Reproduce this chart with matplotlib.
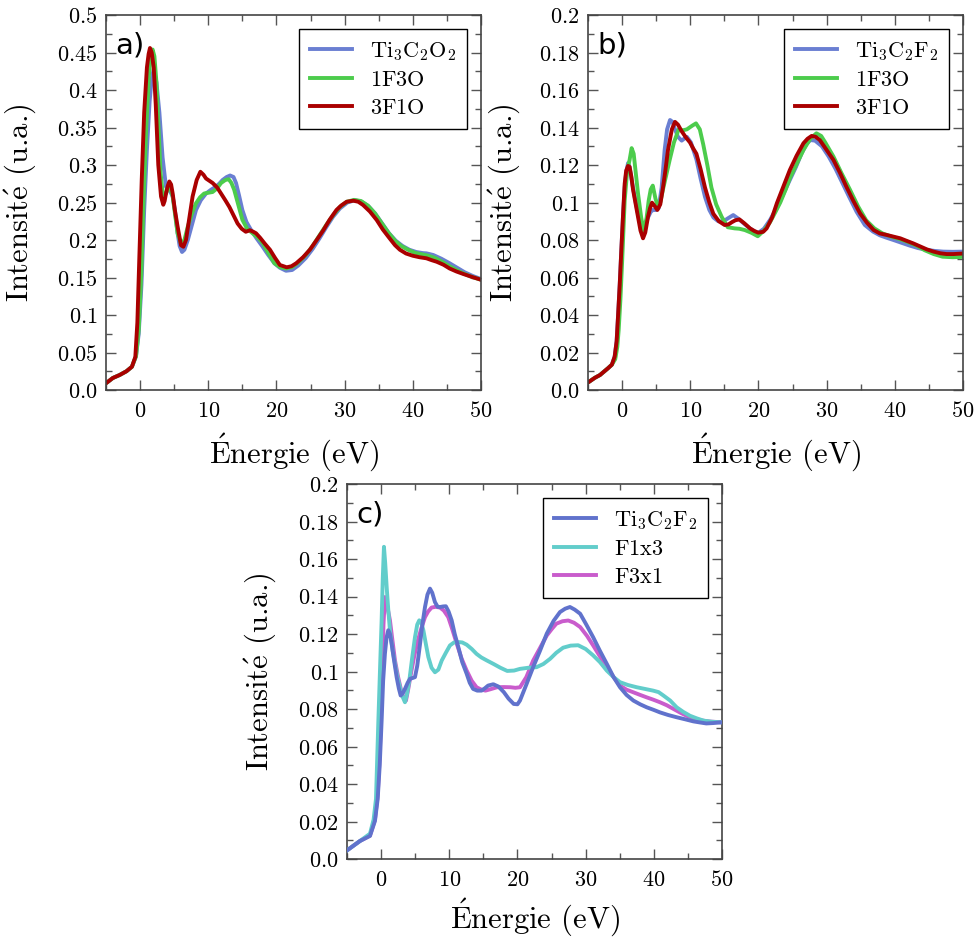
import matplotlib
matplotlib.use("Agg")
import matplotlib.pyplot as plt
from matplotlib.ticker import MultipleLocator, FixedLocator, FixedFormatter

plt.rcParams['mathtext.fontset'] = 'cm'
plt.rcParams['font.family'] = ['DejaVu Sans']

# ---------------- data: panel a ----------------
a_blue_x = [-5, -4, -3, -2, -1.2, -0.6, -0.2, 0.2, 0.6, 1.0, 1.4, 1.7, 2.0, 2.4, 2.83, 3.3, 3.8, 4.3, 4.78, 5.1, 5.5, 5.8, 6.15, 6.5, 7.0, 7.6, 8.2, 8.9, 9.67, 10.4, 11.1, 11.6, 12.1, 12.7, 13.2, 13.7, 14.07, 14.5, 15.0, 15.6, 16.3, 17.1, 17.98, 18.8, 19.7, 20.5, 21.4, 22.3, 23.2, 24.3, 25.3, 26.3, 27.3, 28.3, 29.3, 30.4, 31.5, 32.5, 33.5, 34.5, 35.5, 36.5, 37.5, 38.5, 39.5, 40.5, 41.5, 42.0, 43.0, 44.2, 45.4, 46.5, 47.6, 48.8, 50]
a_blue_y = [0.009, 0.016, 0.020, 0.025, 0.031, 0.045, 0.075, 0.14, 0.24, 0.32, 0.385, 0.415, 0.428, 0.41, 0.37, 0.31, 0.271, 0.267, 0.258, 0.24, 0.209, 0.192, 0.184, 0.187, 0.20, 0.22, 0.24, 0.253, 0.262, 0.267, 0.271, 0.275, 0.28, 0.284, 0.286, 0.284, 0.276, 0.26, 0.24, 0.224, 0.213, 0.202, 0.191, 0.18, 0.169, 0.163, 0.159, 0.16, 0.166, 0.176, 0.188, 0.202, 0.217, 0.231, 0.242, 0.25, 0.253, 0.251, 0.245, 0.235, 0.222, 0.209, 0.199, 0.192, 0.187, 0.184, 0.1825, 0.1822, 0.180, 0.175, 0.169, 0.163, 0.157, 0.152, 0.148]

a_green_x = [-5, -4, -3, -2, -1.2, -0.6, -0.2, 0.2, 0.5, 0.9, 1.3, 1.6, 1.84, 2.1, 2.4, 2.7, 3.0, 3.4, 3.8, 4.19, 4.5, 4.78, 5.1, 5.5, 6.0, 6.5, 7.0, 7.6, 8.2, 8.8, 9.4, 10.0, 10.64, 11.3, 11.87, 12.5, 13.0, 13.4, 13.8, 14.4, 15.0, 15.7, 16.5, 17.3, 17.98, 18.8, 19.7, 20.5, 21.4, 22.3, 23.2, 24.3, 25.3, 26.3, 27.3, 28.3, 29.3, 30.3, 31.4, 32.4, 33.4, 34.4, 35.4, 36.4, 37.4, 38.3, 39.3, 40.3, 41.3, 42.3, 43.3, 44.3, 45.4, 46.4, 47.4, 48.6, 50]
a_green_y = [0.009, 0.016, 0.020, 0.025, 0.031, 0.045, 0.08, 0.16, 0.25, 0.35, 0.42, 0.448, 0.454, 0.445, 0.41, 0.35, 0.29, 0.256, 0.262, 0.271, 0.268, 0.258, 0.236, 0.209, 0.195, 0.20, 0.218, 0.235, 0.249, 0.257, 0.262, 0.263, 0.264, 0.269, 0.276, 0.28, 0.281, 0.276, 0.267, 0.247, 0.227, 0.215, 0.209, 0.203, 0.196, 0.183, 0.169, 0.164, 0.162, 0.164, 0.170, 0.180, 0.192, 0.206, 0.220, 0.233, 0.244, 0.251, 0.2535, 0.252, 0.246, 0.236, 0.223, 0.210, 0.199, 0.192, 0.187, 0.183, 0.181, 0.179, 0.176, 0.171, 0.165, 0.160, 0.1555, 0.151, 0.147]

a_red_x = [-5, -4, -3, -2, -1.2, -0.7, -0.4, -0.1, 0.24, 0.6, 1.0, 1.25, 1.45, 1.7, 2.0, 2.3, 2.67, 3.07, 3.4, 3.6, 3.8, 4.05, 4.29, 4.55, 4.78, 5.1, 5.5, 6.0, 6.35, 6.73, 7.2, 7.7, 8.3, 8.84, 9.3, 9.67, 10.64, 11.3, 11.87, 12.5, 13.1, 13.7, 14.3, 14.9, 15.5, 16.12, 16.6, 17.0, 17.6, 18.3, 19.05, 19.8, 20.5, 21.5, 22.2, 22.9, 23.9, 24.9, 25.9, 26.87, 27.8, 28.8, 29.5, 30.3, 31.27, 32.0, 32.7, 33.7, 34.7, 35.6, 36.6, 37.4, 38.1, 39.0, 40.0, 41.0, 42.0, 42.8, 43.5, 44.5, 45.4, 46.4, 47.4, 48.6, 50]
a_red_y = [0.009, 0.016, 0.020, 0.025, 0.031, 0.044, 0.09, 0.18, 0.28, 0.37, 0.43, 0.448, 0.456, 0.45, 0.43, 0.38, 0.30, 0.258, 0.247, 0.252, 0.262, 0.272, 0.278, 0.274, 0.262, 0.24, 0.218, 0.193, 0.191, 0.20, 0.228, 0.258, 0.28, 0.291, 0.287, 0.282, 0.276, 0.27, 0.262, 0.253, 0.244, 0.233, 0.222, 0.215, 0.211, 0.213, 0.211, 0.209, 0.203, 0.195, 0.187, 0.176, 0.1667, 0.1636, 0.165, 0.169, 0.177, 0.187, 0.20, 0.213, 0.227, 0.24, 0.246, 0.251, 0.2524, 0.251, 0.2467, 0.238, 0.2267, 0.214, 0.2022, 0.193, 0.187, 0.182, 0.179, 0.177, 0.1756, 0.173, 0.171, 0.167, 0.162, 0.158, 0.1547, 0.151, 0.147]

# ---------------- data: panel b ----------------
b_blue_x = [-5, -4, -3.24, -2.07, -1.5, -1.09, -0.8, -0.6, -0.35, -0.11, 0.15, 0.38, 0.6, 0.87, 1.1, 1.5, 2.0, 2.5, 3.07, 3.5, 3.8, 4.2, 4.5, 5.0, 5.36, 5.8, 6.24, 6.6, 7.03, 7.4, 7.76, 8.2, 8.74, 9.1, 9.5, 10.1, 10.9, 11.5, 12.16, 12.8, 13.4, 14.1, 14.8, 15.5, 16.3, 17.0, 17.8, 18.8, 19.9, 20.8, 21.7, 22.5, 23.2, 24.6, 25.5, 26.3, 27.0, 27.6, 28.3, 29.3, 30.3, 31.3, 32.3, 33.3, 34.4, 35.6, 36.8, 37.8, 38.8, 39.8, 41.0, 42.2, 43.4, 44.6, 45.8, 47.1, 48.5, 50]
b_blue_y = [0.004, 0.0065, 0.008, 0.0116, 0.0135, 0.0178, 0.026, 0.039, 0.056, 0.0747, 0.094, 0.108, 0.116, 0.121, 0.119, 0.110, 0.100, 0.091, 0.0853, 0.0895, 0.092, 0.095, 0.096, 0.096, 0.097, 0.108, 0.128, 0.139, 0.144, 0.143, 0.139, 0.135, 0.133, 0.134, 0.135, 0.132, 0.123, 0.113, 0.103, 0.096, 0.092, 0.090, 0.0898, 0.0915, 0.0933, 0.0915, 0.089, 0.086, 0.0836, 0.086, 0.0907, 0.096, 0.101, 0.112, 0.119, 0.126, 0.131, 0.1333, 0.133, 0.130, 0.1245, 0.118, 0.1105, 0.103, 0.095, 0.088, 0.0845, 0.0825, 0.0812, 0.080, 0.0785, 0.077, 0.0757, 0.0748, 0.0742, 0.0738, 0.0737, 0.0738]

b_green_x = [-5, -4, -3.24, -2.07, -1.5, -1.0, -0.7, -0.5, -0.25, 0.0, 0.38, 0.75, 1.1, 1.4, 1.7, 2.0, 2.33, 2.8, 3.2, 3.6, 3.9, 4.2, 4.5, 4.9, 5.27, 5.6, 6.0, 6.5, 7.0, 7.6, 8.3, 8.9, 9.5, 10.3, 10.84, 11.4, 11.9, 12.5, 13.1, 13.8, 14.6, 15.5, 16.5, 17.2, 18.0, 19.0, 19.9, 20.8, 21.7, 22.5, 23.2, 24.0, 24.6, 25.6, 26.6, 27.6, 28.5, 29.2, 29.8, 31.0, 32.2, 33.4, 34.6, 35.8, 37.0, 38.2, 39.5, 40.7, 41.9, 43.2, 44.4, 45.7, 47.0, 48.5, 50]
b_green_y = [0.004, 0.0065, 0.008, 0.0116, 0.0135, 0.0165, 0.023, 0.032, 0.048, 0.068, 0.101, 0.117, 0.1227, 0.129, 0.126, 0.116, 0.105, 0.092, 0.0844, 0.092, 0.101, 0.107, 0.109, 0.102, 0.0978, 0.100, 0.107, 0.115, 0.123, 0.132, 0.139, 0.1385, 0.139, 0.141, 0.1422, 0.139, 0.131, 0.12, 0.108, 0.099, 0.0924, 0.0868, 0.0862, 0.0860, 0.0853, 0.0838, 0.082, 0.085, 0.0895, 0.095, 0.100, 0.107, 0.113, 0.1205, 0.128, 0.134, 0.1369, 0.1355, 0.132, 0.1245, 0.1155, 0.107, 0.098, 0.0905, 0.0862, 0.0835, 0.0818, 0.0805, 0.079, 0.077, 0.0745, 0.0725, 0.0711, 0.0708, 0.0710]

b_red_x = [-5, -4, -3.24, -2.07, -1.5, -1.09, -0.8, -0.6, -0.35, -0.11, 0.15, 0.38, 0.6, 0.87, 1.1, 1.35, 1.6, 2.0, 2.33, 2.7, 3.07, 3.4, 3.8, 4.1, 4.39, 4.8, 5.17, 5.6, 6.0, 6.35, 6.73, 7.3, 7.76, 8.2, 8.74, 9.3, 9.96, 10.4, 10.9, 11.5, 12.16, 12.8, 13.38, 14.2, 15.04, 15.6, 16.1, 16.6, 17.2, 17.9, 18.76, 19.4, 19.98, 20.7, 21.2, 22.0, 22.7, 23.6, 24.6, 25.6, 26.6, 27.2, 27.8, 28.4, 29.0, 30.0, 31.0, 32.0, 32.9, 33.9, 34.9, 35.9, 36.9, 37.8, 38.8, 39.8, 40.8, 41.7, 42.7, 43.7, 44.7, 45.7, 46.7, 47.6, 48.6, 50]
b_red_y = [0.004, 0.0065, 0.008, 0.0116, 0.0135, 0.0178, 0.026, 0.039, 0.056, 0.0747, 0.094, 0.110, 0.117, 0.1195, 0.119, 0.114, 0.107, 0.099, 0.0924, 0.085, 0.0809, 0.084, 0.0924, 0.097, 0.0999, 0.098, 0.096, 0.099, 0.108, 0.117, 0.128, 0.139, 0.143, 0.1415, 0.138, 0.135, 0.132, 0.129, 0.126, 0.118, 0.108, 0.100, 0.094, 0.090, 0.088, 0.0883, 0.0895, 0.0905, 0.091, 0.089, 0.0862, 0.0848, 0.0839, 0.0844, 0.0862, 0.092, 0.0996, 0.108, 0.1173, 0.125, 0.1316, 0.134, 0.1355, 0.135, 0.1333, 0.128, 0.1227, 0.1155, 0.1084, 0.101, 0.0942, 0.0893, 0.0853, 0.0835, 0.0827, 0.0818, 0.0809, 0.0796, 0.0782, 0.0766, 0.075, 0.0738, 0.0729, 0.0725, 0.0725, 0.0728]

# ---------------- data: panel c ----------------
c_blue_x = [-5, -3.1, -1.63, -0.9, -0.5, -0.2, 0.08, 0.3, 0.56, 0.8, 1.05, 1.3, 1.55, 1.9, 2.28, 2.6, 2.87, 3.2, 3.5, 3.9, 4.24, 4.6, 4.97, 5.3, 5.7, 6.05, 6.44, 6.8, 7.17, 7.5, 7.9, 8.3, 8.64, 9.1, 9.5, 9.9, 10.35, 10.8, 11.33, 11.9, 12.55, 13.0, 13.5, 14.1, 14.74, 15.2, 15.7, 16.46, 17.2, 18.0, 18.7, 19.45, 20.0, 20.37, 21.3, 22.3, 23.3, 24.3, 25.3, 26.24, 27.0, 27.7, 28.4, 29.2, 30.1, 31.1, 32.1, 33.1, 34.1, 35.04, 36.0, 37.0, 38.0, 38.96, 40.0, 40.9, 42.1, 43.35, 44.6, 45.8, 46.8, 47.7, 48.7, 50]
c_blue_y = [0.0046, 0.0096, 0.0123, 0.0203, 0.032, 0.05, 0.0738, 0.095, 0.1094, 0.118, 0.122, 0.12, 0.1147, 0.106, 0.097, 0.091, 0.0872, 0.0885, 0.0907, 0.094, 0.0961, 0.0965, 0.097, 0.103, 0.1143, 0.125, 0.1344, 0.141, 0.1442, 0.142, 0.137, 0.1345, 0.1344, 0.1347, 0.1348, 0.132, 0.1273, 0.12, 0.113, 0.105, 0.0988, 0.094, 0.0907, 0.0898, 0.0898, 0.091, 0.0925, 0.0932, 0.092, 0.089, 0.0855, 0.0827, 0.0825, 0.0845, 0.093, 0.1023, 0.111, 0.1202, 0.127, 0.1317, 0.1335, 0.1344, 0.133, 0.1308, 0.125, 0.1183, 0.111, 0.1041, 0.097, 0.0916, 0.0875, 0.0845, 0.0825, 0.0809, 0.0795, 0.0782, 0.0768, 0.0756, 0.0745, 0.0734, 0.0728, 0.0723, 0.0725, 0.0729]

c_cyan_x = [-5, -3.1, -1.63, -1.1, -0.75, -0.4, -0.15, 0.08, 0.25, 0.42, 0.6, 0.82, 1.05, 1.3, 1.7, 2.04, 2.4, 2.77, 3.1, 3.5, 3.8, 4.14, 4.55, 4.97, 5.3, 5.6, 5.9, 6.2, 6.55, 6.93, 7.4, 7.9, 8.4, 8.9, 9.5, 10.1, 10.7, 11.33, 11.9, 12.55, 13.3, 14.0, 14.7, 15.5, 16.5, 17.5, 18.5, 19.5, 20.37, 21.6, 22.8, 23.8, 24.8, 25.7, 26.7, 27.8, 28.9, 30.0, 31.1, 32.1, 33.1, 34.1, 35.04, 36.2, 37.5, 38.7, 39.9, 40.7, 41.4, 42.4, 43.35, 44.3, 45.3, 46.3, 47.3, 48.5, 50]
c_cyan_y = [0.0046, 0.0096, 0.0135, 0.021, 0.032, 0.0738, 0.102, 0.1273, 0.150, 0.1665, 0.158, 0.145, 0.133, 0.122, 0.111, 0.1041, 0.097, 0.0916, 0.087, 0.0836, 0.088, 0.0952, 0.107, 0.1183, 0.125, 0.1273, 0.126, 0.122, 0.115, 0.1077, 0.102, 0.0996, 0.101, 0.1059, 0.11, 0.1139, 0.1155, 0.1157, 0.1155, 0.1143, 0.112, 0.1094, 0.1075, 0.1059, 0.104, 0.102, 0.1003, 0.1005, 0.1014, 0.102, 0.1023, 0.104, 0.1068, 0.110, 0.1127, 0.1138, 0.114, 0.112, 0.1086, 0.105, 0.1005, 0.097, 0.0943, 0.0928, 0.0916, 0.0907, 0.0898, 0.089, 0.0872, 0.0845, 0.0809, 0.0785, 0.0764, 0.075, 0.0738, 0.0732, 0.0729]

c_mag_x = [-5, -3.1, -1.63, -0.9, -0.5, -0.2, 0.1, 0.35, 0.56, 0.75, 1.0, 1.3, 1.65, 2.04, 2.5, 3.0, 3.3, 3.65, 4.0, 4.46, 4.9, 5.4, 5.9, 6.44, 6.9, 7.4, 8.0, 8.64, 9.2, 9.85, 10.4, 11.1, 11.8, 12.55, 13.3, 14.0, 14.6, 15.3, 16.0, 17.0, 18.0, 19.0, 19.7, 20.37, 21.3, 22.3, 23.3, 24.3, 25.0, 25.7, 26.6, 27.45, 28.3, 29.2, 30.2, 31.1, 32.1, 33.1, 34.1, 35.04, 36.0, 37.0, 38.0, 38.96, 39.9, 40.9, 41.9, 42.9, 43.9, 44.8, 45.8, 46.8, 48.2, 50]
c_mag_y = [0.0046, 0.0096, 0.0125, 0.021, 0.034, 0.055, 0.09, 0.125, 0.1397, 0.138, 0.133, 0.1273, 0.117, 0.1059, 0.097, 0.089, 0.0862, 0.0845, 0.091, 0.1005, 0.109, 0.1166, 0.123, 0.129, 0.132, 0.1341, 0.1345, 0.1341, 0.1325, 0.129, 0.123, 0.1148, 0.107, 0.1005, 0.095, 0.0916, 0.0905, 0.0898, 0.0905, 0.0916, 0.0917, 0.0916, 0.0913, 0.0916, 0.097, 0.1058, 0.1125, 0.1192, 0.1225, 0.1255, 0.1268, 0.1272, 0.126, 0.1237, 0.119, 0.1139, 0.108, 0.1023, 0.097, 0.0925, 0.0903, 0.0889, 0.0875, 0.0862, 0.085, 0.0836, 0.082, 0.080, 0.078, 0.0764, 0.075, 0.074, 0.0733, 0.0729]

# ---------------- labels / ticks ----------------
x_ticks = [0, 10, 20, 30, 40, 50]
x_ticklabels = ['0', '10', '20', '30', '40', '50']
a_yticks = [0.0, 0.05, 0.1, 0.15, 0.2, 0.25, 0.3, 0.35, 0.4, 0.45, 0.5]
a_yticklabels = ['0.0', '0.05', '0.1', '0.15', '0.2', '0.25', '0.3', '0.35', '0.4', '0.45', '0.5']
bc_yticks = [0.0, 0.02, 0.04, 0.06, 0.08, 0.1, 0.12, 0.14, 0.16, 0.18, 0.2]
bc_yticklabels = ['0.0', '0.02', '0.04', '0.06', '0.08', '0.1', '0.12', '0.14', '0.16', '0.18', '0.2']

lab_O2 = r'$\mathrm{Ti_3C_2O_2}$'
lab_F2 = r'$\mathrm{Ti_3C_2F_2}$'
lab_1F3O = r'$\mathrm{1F3O}$'
lab_3F1O = r'$\mathrm{3F1O}$'
lab_F1x3 = r'$\mathrm{F1x3}$'
lab_F3x1 = r'$\mathrm{F3x1}$'
xlabel = r'$\acute{\mathrm{E}}$nergie (eV)'
ylabel = r'Intensit$\acute{\mathrm{e}}$ (u.a.)'

BLUE = '#6a7fd2'
GREEN = '#4ccc4c'
RED = '#aa0000'
C_BLUE = '#6072cc'
C_CYAN = '#62cdcb'
C_MAG = '#c95ccc'
SPINE = '#444444'
LW = 2.8

fig = plt.figure(figsize=(9.75, 9.38), dpi=100)
W, H = 975.0, 938.0


def make_ax(x0, y_top):
    return fig.add_axes([x0 / W, (H - (y_top + 375)) / H, 375 / W, 375 / H])


def style(ax, yticks, yticklabels, ymax, yminor, tag, ylab_x, xlab_y):
    ax.set_xlim(-5, 50)
    ax.set_ylim(0, ymax)
    ax.xaxis.set_major_locator(FixedLocator(x_ticks))
    ax.xaxis.set_major_formatter(FixedFormatter(['$%s$' % t for t in x_ticklabels]))
    ax.xaxis.set_minor_locator(MultipleLocator(5))
    ax.yaxis.set_major_locator(FixedLocator(yticks))
    ax.yaxis.set_major_formatter(FixedFormatter(['$%s$' % t for t in yticklabels]))
    ax.yaxis.set_minor_locator(MultipleLocator(yminor))
    ax.tick_params(which='both', direction='in', top=True, right=True,
                   color='#555555', labelsize=16, width=1.0)
    ax.tick_params(which='major', length=7)
    ax.tick_params(which='minor', length=4.5)
    ax.tick_params(axis='x', pad=8)
    ax.tick_params(axis='y', pad=6)
    for s in ax.spines.values():
        s.set_color(SPINE)
        s.set_linewidth(1.2)
    ax.set_xlabel(xlabel, fontsize=22, family='cmr10')
    ax.set_ylabel(ylabel, fontsize=22, family='cmr10')
    ax.yaxis.set_label_coords(ylab_x, 0.5)
    ax.xaxis.set_label_coords(0.5, xlab_y)
    ax.text(0.025, 0.957, tag, transform=ax.transAxes, fontsize=21,
            family='DejaVu Sans', va='top', ha='left')
    leg = ax.legend(loc='upper right', bbox_to_anchor=(0.963, 0.963),
                    borderaxespad=0, fontsize=16, fancybox=False,
                    edgecolor='black', framealpha=1, handlelength=1.9,
                    labelspacing=0.33, borderpad=0.5, handletextpad=0.8)
    leg.get_frame().set_linewidth(1.0)


# panel a
ax = make_ax(106, 15)
ax.plot(a_blue_x, a_blue_y, color=BLUE, lw=LW, label=lab_O2)
ax.plot(a_green_x, a_green_y, color=GREEN, lw=LW, label=lab_1F3O)
ax.plot(a_red_x, a_red_y, color=RED, lw=LW, label=lab_3F1O)
style(ax, a_yticks, a_yticklabels, 0.5, 0.025, 'a)', -0.181, -0.112)

# panel b
ax = make_ax(588, 15)
ax.plot(b_blue_x, b_blue_y, color=BLUE, lw=LW, label=lab_F2)
ax.plot(b_green_x, b_green_y, color=GREEN, lw=LW, label=lab_1F3O)
ax.plot(b_red_x, b_red_y, color=RED, lw=LW, label=lab_3F1O)
style(ax, bc_yticks, bc_yticklabels, 0.2, 0.01, 'b)', -0.176, -0.112)

# panel c
ax = make_ax(347, 484)
ax.plot(c_blue_x, c_blue_y, color=C_BLUE, lw=LW, label=lab_F2, zorder=4)
ax.plot(c_cyan_x, c_cyan_y, color=C_CYAN, lw=LW, label=lab_F1x3, zorder=3)
ax.plot(c_mag_x, c_mag_y, color=C_MAG, lw=LW, label=lab_F3x1, zorder=2)
style(ax, bc_yticks, bc_yticklabels, 0.2, 0.01, 'c)', -0.184, -0.102)

fig.savefig('out.png', dpi=100)
